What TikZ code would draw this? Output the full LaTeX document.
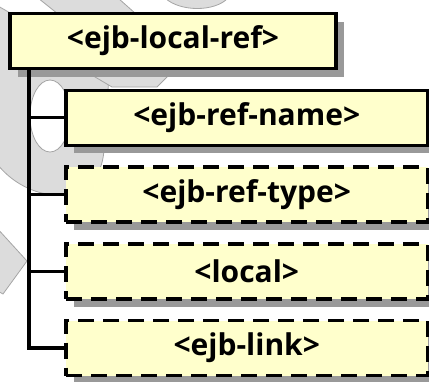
\documentclass[tikz,border=0pt]{standalone}
\usepackage{fontspec}
\setmainfont{Open Sans}
\usetikzlibrary{shadows}
\definecolor{boxfill}{RGB}{255,255,204}
\definecolor{shadowgray}{RGB}{153,153,153}
\definecolor{markfill}{RGB}{220,220,220}
\definecolor{markline}{RGB}{165,165,165}
\begin{document}
\begin{tikzpicture}[x=1pt, y=-1pt,
    elem/.style={draw, line width=3.2pt, fill=boxfill, inner sep=0pt,
        minimum height=55pt, font=\fontsize{30}{34}\selectfont\bfseries,
        drop shadow={shadow xshift=8pt, shadow yshift=-8pt, fill=shadowgray, opacity=1}},
    optional/.style={elem, dash pattern=on 16pt off 9pt},
    wmark/.style={fill=markfill, draw=markline, line width=0.8pt},
    link/.style={line width=3.2pt}]
    \useasboundingbox (0,0) rectangle (429,381);

    % Watermark behind the tree
    \draw[wmark] (38,-2) -- (118,-2) -- (136,14) -- (58,14) -- cycle;
    \draw[wmark] (165,-2) .. controls (180,12) and (215,12) .. (228,-2);
    \draw[wmark] (-2,6) -- (40,30) -- (110,60) -- (104,150)
        .. controls (100,210) and (30,205) .. (-2,165) -- cycle;
    \draw[wmark, fill=white] (50,116) ellipse (20pt and 36pt);
    \draw[wmark] (90,74) -- (170,74) -- (157,87) -- (112,87) -- cycle;
    \draw[wmark] (-4,227) -- (27,261) -- (3,294) -- (-4,290) -- cycle;

    % Root element
    \node[elem, minimum width=326pt] (root) at (173,41) {<ejb-local-ref>};

    % Child elements
    \node[elem, minimum width=361.5pt] (refname) at (246.75,117.75) {<ejb-ref-name>};
    \node[optional, minimum width=361.5pt] (reftype) at (246.75,194.5) {<ejb-ref-type>};
    \node[optional, minimum width=361.5pt] (local) at (246.75,271.5) {<local>};
    \node[optional, minimum width=361.5pt] (ejblink) at (246.75,348) {<ejb-link>};

    % Tree lines
    \coordinate (trunk) at (29,0);
    \draw[link] (trunk |- root.south) |- (ejblink.west);
    \draw[link] (trunk |- refname) -- (refname.west);
    \draw[link] (trunk |- reftype) -- (reftype.west);
    \draw[link] (trunk |- local) -- (local.west);
\end{tikzpicture}
\end{document}
